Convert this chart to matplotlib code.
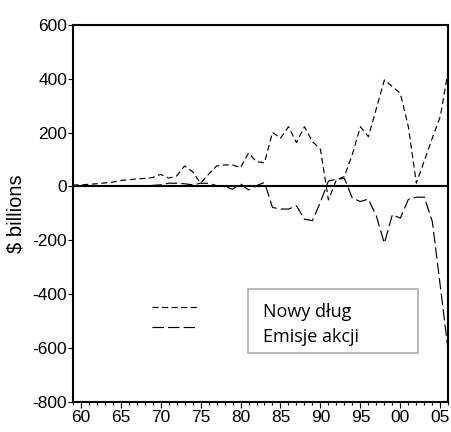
import matplotlib
matplotlib.use("Agg")
import matplotlib.pyplot as plt
from matplotlib.patches import Rectangle
from matplotlib.lines import Line2D

years = list(range(1959, 2007))
nowy_dlug = [5, 6, 8, 10, 13, 16, 22, 25, 28, 30,
             33, 45, 31, 39, 76, 55, 12, 45, 76, 80,
             80, 70, 124, 92, 88, 201, 179, 222, 163, 222,
             167, 138, -50, 25, 37, 120, 222, 185, 290, 396,
             371, 346, 222, 12, 95, 180, 260, 433]
emisje_akcji = [2, 2, 3, 1, 2, 3, 1, 1, 2, 1,
                4, 6, 12, 12, 10, 6, 12, 12, 3, 0,
                -10, 10, -13, 3, 15, -78, -84, -84, -72, -122,
                -127, -58, 20, 27, 30, -44, -56, -47, -110, -211,
                -105, -118, -48, -40, -40, -130, -370, -615]
yticks = [-800, -600, -400, -200, 0, 200, 400, 600]
xtick_years = [1960, 1965, 1970, 1975, 1980, 1985, 1990, 1995, 2000, 2005]
xtick_labels = ["60", "65", "70", "75", "80", "85", "90", "95", "00", "05"]
legend_labels = ["Nowy dług", "Emisje akcji"]

plt.rcParams['lines.scale_dashes'] = False

fig = plt.figure(figsize=(4.51, 4.32), dpi=100)
ax = fig.add_axes([0.1612, 0.0701, 0.8328, 0.8720])

short_dash = (0, (4.3, 2.6))
long_dash = (0, (8.2, 3.0))

ax.plot(years, nowy_dlug, color='black', lw=0.85, linestyle=short_dash)
ax.plot(years, emisje_akcji, color='black', lw=0.85, linestyle=long_dash)
ax.axhline(0, color='black', lw=1.5)

ax.set_xlim(1959, 2006)
ax.set_ylim(-800, 600)

tick_font = dict(family='Liberation Sans', size=12.5)
ax.set_yticks(yticks)
ax.set_yticklabels([str(v) for v in yticks], fontdict=tick_font)
ax.set_xticks(xtick_years)
ax.set_xticklabels(xtick_labels, fontdict=tick_font)
ax.set_xticks(years, minor=True)
ax.tick_params(axis='y', direction='out', length=3.5, width=0.8, pad=0.5, left=True, right=False)
ax.tick_params(axis='x', which='major', direction='out', length=4.5, width=0.8, pad=1.5, top=False)
ax.tick_params(axis='x', which='minor', direction='out', length=2.5, width=0.8, top=False)

for s in ax.spines.values():
    s.set_linewidth(1.5)
    s.set_color('black')

ax.set_ylabel("$ billions", family='Liberation Sans', fontsize=14.5, labelpad=5)

# legend: dash samples outside a grey box with labels
ax.add_line(Line2D([0.2102, 0.330], [0.2522, 0.2522], transform=ax.transAxes,
                   color='black', lw=0.85, linestyle=short_dash))
ax.add_line(Line2D([0.2102, 0.326], [0.1975, 0.1975], transform=ax.transAxes,
                   color='black', lw=0.85, linestyle=long_dash))
ax.add_patch(Rectangle((0.4667, 0.129), 0.4523, 0.170, transform=ax.transAxes,
                       fill=False, edgecolor='#a6a6a6', lw=1.1))
ax.text(0.5075, 0.239, legend_labels[0], transform=ax.transAxes, family='Open Sans',
        fontsize=13, va='center', ha='left')
ax.text(0.5075, 0.1726, legend_labels[1], transform=ax.transAxes, family='Open Sans',
        fontsize=13, va='center', ha='left')

fig.savefig("out.png", dpi=100)
